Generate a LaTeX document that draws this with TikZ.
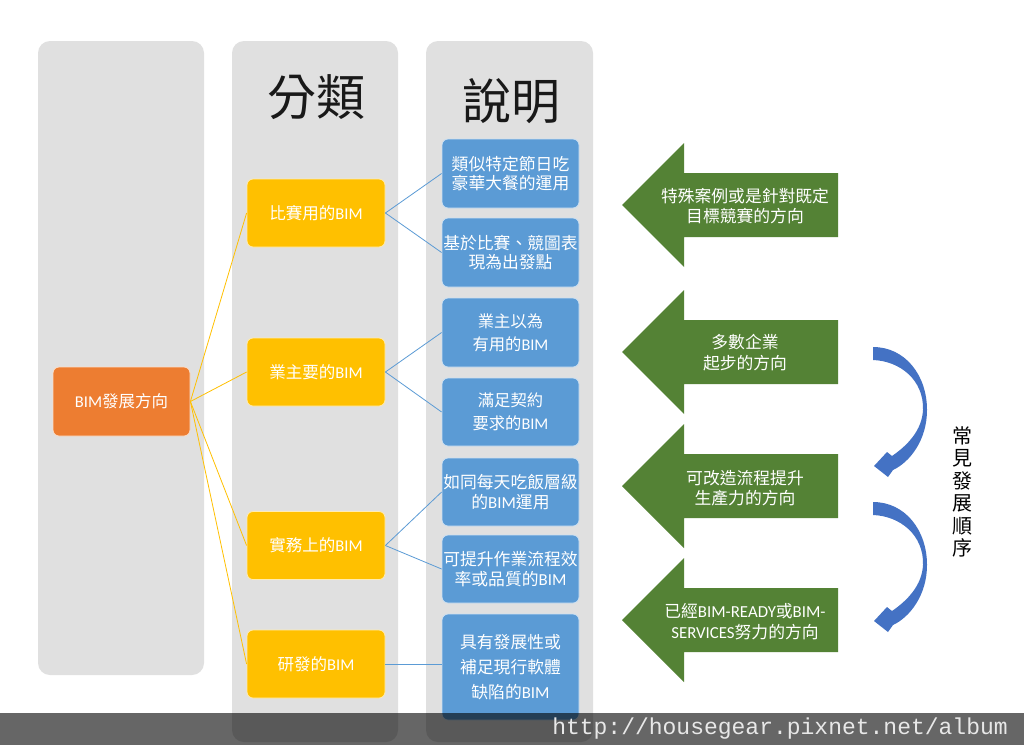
\documentclass[tikz,border=0pt]{standalone}
\usepackage{fontspec}
\setmainfont{Noto Sans CJK TC}
\newfontfamily\latf{Carlito}
\newfontfamily\monof{Liberation Mono}
\newcommand\bimx{{\latf BIM}}
\definecolor{colgray}{HTML}{E0E0E0}
\definecolor{byellow}{HTML}{FFC000}
\definecolor{bblue}{HTML}{5B9BD5}
\definecolor{borange}{HTML}{ED7D31}
\definecolor{agreen}{HTML}{548235}
\definecolor{cblue}{HTML}{4472C4}
\definecolor{urlgray}{HTML}{E8E8E8}
\begin{document}
\begin{tikzpicture}[x=1pt,y=-1pt,
  col/.style={fill=colgray, rounded corners=12pt},
  title/.style={font=\fontsize{49}{50}\selectfont, text=black!90},
  obox/.style={fill=borange, draw=white!75!borange, line width=0.8pt, rounded corners=6pt,
    minimum width=137pt, minimum height=69pt, text=white, inner sep=0pt,
    font=\fontsize{16.5}{20}\selectfont, align=center},
  ybox/.style={obox, fill=byellow, draw=white!70!byellow, minimum width=138pt, minimum height=68pt},
  bbox/.style={obox, fill=bblue, draw=white!70!bblue, minimum width=137pt, minimum height=68pt,
    font=\fontsize{16.8}{19.5}\selectfont},
  ylink/.style={draw=byellow, line width=0.8pt},
  blink/.style={draw=bblue, line width=0.8pt},
  gtext/.style={text=white, font=\fontsize{16.8}{20}\selectfont, align=center, inner sep=0pt},
  carrow/.style={fill=cblue}
]
\useasboundingbox[fill=white] (0,0) rectangle (1024,745);

% columns
\fill[col] (38,41) rectangle (204,675);
\fill[col] (232,41) rectangle (398,742);
\fill[col] (426,41) rectangle (593,742);

\node[title] (t1) at (316,97) {分類};
\node[title] (t2) at (511,101) {說明};

% root
\node[obox] (root) at (121.5,401.5) {\bimx{}發展方向};

% categories
\node[ybox] (y1) at (316,213) {比賽用的\bimx};
\node[ybox] (y2) at (316,372) {業主要的\bimx};
\node[ybox] (y3) at (316,545.5) {實務上的\bimx};
\node[ybox] (y4) at (316,664) {研發的\bimx};

% descriptions
\node[bbox, minimum height=69pt] (b1) at (510.5,173.5) {類似特定節日吃\\豪華大餐的運用};
\node[bbox, minimum height=69pt] (b2) at (510.5,252.5) {基於比賽、競圖表\\現為出發點};
\node[bbox, minimum height=69pt, font=\fontsize{16.3}{23}\selectfont] (b3) at (510.5,332.5) {業主以為\\有用的\bimx};
\node[bbox, font=\fontsize{16.3}{23}\selectfont] (b4) at (510.5,412) {滿足契約\\要求的\bimx};
\node[bbox] (b5) at (510.5,492) {如同每天吃飯層級\\的\bimx{}運用};
\node[bbox] (b6) at (510.5,569) {可提升作業流程效\\率或品質的\bimx};
\node[bbox, minimum height=106pt, font=\fontsize{16.8}{25}\selectfont] (b7) at (510.5,667) {具有發展性或\\補足現行軟體\\缺陷的\bimx};

% connectors
\draw[ylink] (root.east) -- (y1.west);
\draw[ylink] (root.east) -- (y2.west);
\draw[ylink] (root.east) -- (y3.west);
\draw[ylink] (root.east) -- (y4.west);
\draw[blink] (y1.east) -- (b1.west);
\draw[blink] (y1.east) -- (b2.west);
\draw[blink] (y2.east) -- (b3.west);
\draw[blink] (y2.east) -- (b4.west);
\draw[blink] (y3.east) -- (b5.west);
\draw[blink] (y3.east) -- (b6.west);
\draw[blink] (y4.east) -- (y4.east -| b7.west);

% green arrows
\foreach \cy in {205,352,486,620}{
  \fill[agreen] (622,\cy) -- (684,\cy-62) -- (684,\cy-32) -- (838,\cy-32)
    -- (838,\cy+32) -- (684,\cy+32) -- (684,\cy+62) -- cycle;
}
\node[gtext, font=\fontsize{16.8}{19.5}\selectfont] (g1) at (745,206) {特殊案例或是針對既定\\目標競賽的方向};
\node[gtext, font=\fontsize{16.8}{21}\selectfont] (g2) at (745,353) {多數企業\\起步的方向};
\node[gtext] (g3) at (745,488) {可改造流程提升\\生產力的方向};
\node[gtext, font=\fontsize{16.8}{21}\selectfont] (g4) at (745,622) {已經{\latf BIM-READY}或{\latf BIM-}\\{\latf SERVICES}努力的方向};

% curved blue arrows
\foreach \dy in {0,155}{
  \fill[carrow] (873,347+\dy) .. controls (905,347+\dy) and (927,375+\dy) .. (927,410+\dy)
    .. controls (927,440+\dy) and (910,462+\dy) .. (893,470+\dy)
    -- (888,477+\dy) -- (874,466+\dy) -- (887,452+\dy) -- (892,456+\dy)
    .. controls (908,445+\dy) and (922,430+\dy) .. (923,410+\dy)
    .. controls (924,380+\dy) and (900,361+\dy) .. (873,360+\dy) -- cycle;
}

\node[font=\fontsize{20}{22.5}\selectfont, align=center, inner sep=0pt] (seq) at (962,492) {常\\見\\發\\展\\順\\序};

% bottom bar
\fill[black, opacity=0.6] (0,713) rectangle (1024,745);
\node[text=urlgray, font=\monof\fontsize{23}{23}\selectfont, inner sep=0pt] (url) at (780,729) {http://housegear.pixnet.net/album};
\end{tikzpicture}
\end{document}
